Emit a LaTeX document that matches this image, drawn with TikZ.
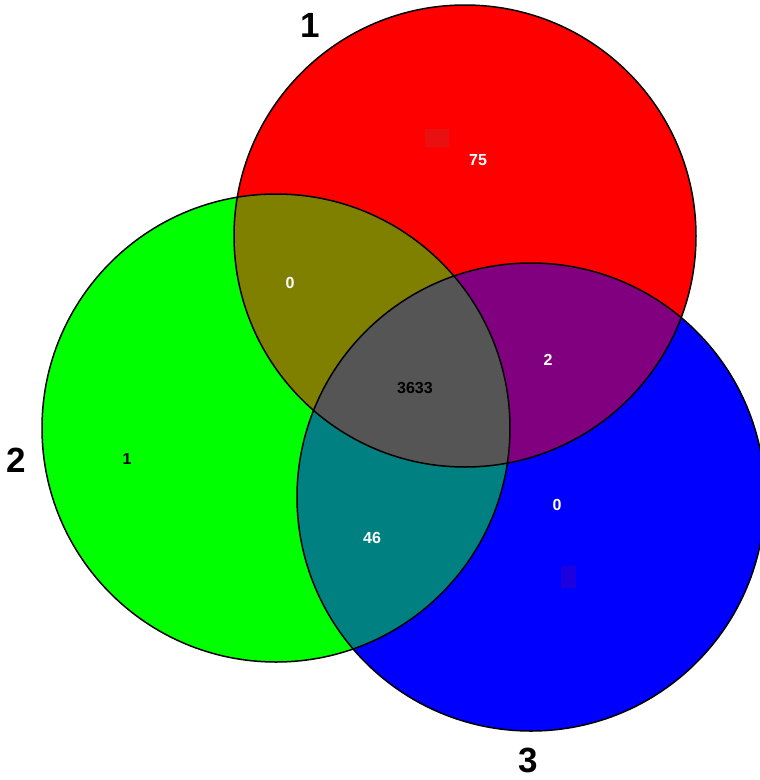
\documentclass[tikz,border=0pt]{standalone}
\usepackage{fontspec}
\setmainfont{Liberation Sans}
\definecolor{setred}{RGB}{255,0,0}
\definecolor{setgreen}{RGB}{0,255,0}
\definecolor{setblue}{RGB}{0,0,255}
\definecolor{redgreen}{RGB}{128,128,0}
\definecolor{redblue}{RGB}{128,0,128}
\definecolor{greenblue}{RGB}{0,128,128}
\definecolor{allthree}{RGB}{85,85,85}
\tikzset{
  count/.style={font=\fontsize{16}{18}\selectfont\bfseries, text=white, inner sep=0pt},
  setname/.style={font=\fontsize{35}{40}\selectfont\bfseries, text=black, inner sep=0pt},
  rim/.style={draw=black, line width=1.5pt}
}
\begin{document}
\begin{tikzpicture}[x=1pt, y=-1pt]
	\useasboundingbox (0,0) rectangle (760,780);
	\coordinate (c_1) at (465,236);
	\coordinate (c_2) at (276,428);
	\coordinate (c_3) at (531,497);

	% the three sets
	\fill[setred] (c_1) circle (231);
	\fill[setgreen] (c_2) circle (234);
	\fill[setblue] (c_3) circle (234);

	% overlaps
	\begin{scope}
		\clip (c_1) circle (231);
		\fill[redgreen] (c_2) circle (234);
		\fill[redblue] (c_3) circle (234);
	\end{scope}
	\begin{scope}
		\clip (c_2) circle (234);
		\fill[greenblue] (c_3) circle (234);
		\clip (c_1) circle (231);
		\fill[allthree] (c_3) circle (234);
	\end{scope}

	% faint marks
	\fill[fill={rgb,255:red,232;green,16;blue,16}] (425,129) rectangle (449,147);
	\fill[fill={rgb,255:red,28;green,0;blue,222}] (561,566) rectangle (576,588);

	\draw[rim] (c_1) circle (231);
	\draw[rim] (c_2) circle (234);
	\draw[rim] (c_3) circle (234);

	\node[count] (n_1) at (478,160) {75};
	\node[count] (n_12) at (290,283) {0};
	\node[count] (n_13) at (548,360) {2};
	\node[count, text=black] (n_123) at (415,388) {3633};
	\node[count, text=black] (n_2) at (127,459) {1};
	\node[count] (n_23) at (372,538) {46};
	\node[count] (n_3) at (557,505) {0};

	\node[setname] (s_1) at (310,25) {1};
	\node[setname] (s_2) at (16,460) {2};
	\node[setname] (s_3) at (528,760) {3};
\end{tikzpicture}
\end{document}
